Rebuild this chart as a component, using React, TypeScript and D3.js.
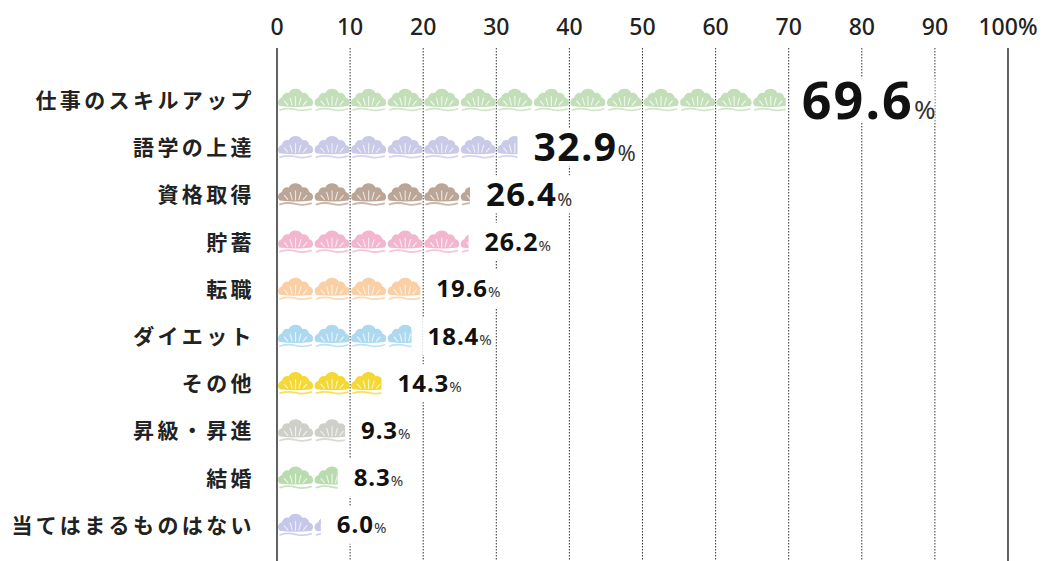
import React, { useEffect, useRef } from 'react';
import * as d3 from 'd3';

const categories = [
  '仕事のスキルアップ',
  '語学の上達',
  '資格取得',
  '貯蓄',
  '転職',
  'ダイエット',
  'その他',
  '昇級・昇進',
  '結婚',
  '当てはまるものはない',
];
const values = [69.6, 32.9, 26.4, 26.2, 19.6, 18.4, 14.3, 9.3, 8.3, 6.0];
const colors = [
  '#c2dfb9', '#c9c9e8', '#bba596', '#f2b6cf', '#f9cfa3',
  '#acd8f0', '#f4d936', '#cfcfca', '#b9dcae', '#c6c7ea',
];
const labelSizes = [52, 39, 33, 25, 24, 24, 24, 24, 24, 24];
const pctSizes = [26, 22, 18, 15, 15, 15, 15, 15, 15, 15];
const ticks = [0, 10, 20, 30, 40, 50, 60, 70, 80, 90, 100];
const iconUnit = 5; // one icon = 5%

const App = () => {
  const svgRef = useRef(null);

  useEffect(() => {
    const width = 1042;
    const height = 561;
    const svg = d3.select(svgRef.current);
    svg.selectAll('*').remove();
    svg.attr('width', width).attr('height', height);

    const x = d3.scaleLinear().domain([0, 100]).range([277, 1008]);
    const y = d3.scaleBand().domain(categories).range([76.4, 548.4]);

    // grid lines
    svg.append('g')
      .selectAll('line')
      .data(ticks)
      .enter()
      .append('line')
      .attr('x1', d => x(d))
      .attr('x2', d => x(d))
      .attr('y1', 48)
      .attr('y2', height)
      .attr('stroke', d => (d === 0 || d === 100 ? '#3a3a3a' : '#333'))
      .attr('stroke-width', d => (d === 0 || d === 100 ? 1.6 : 1))
      .attr('stroke-dasharray', d => (d === 0 || d === 100 ? null : '1.5,1.5'));

    // tick labels
    svg.append('g')
      .selectAll('text')
      .data(ticks)
      .enter()
      .append('text')
      .attr('x', d => x(d))
      .attr('y', 35)
      .attr('text-anchor', 'middle')
      .attr('font-family', '"Noto Sans", sans-serif')
      .attr('font-weight', 500)
      .attr('font-size', 23)
      .attr('fill', '#222')
      .text(d => (d === 100 ? '100%' : d));

    // category labels
    svg.append('g')
      .selectAll('text')
      .data(categories)
      .enter()
      .append('text')
      .attr('x', 255)
      .attr('y', d => y(d) + y.bandwidth() / 2 + 8)
      .attr('text-anchor', 'end')
      .attr('font-family', '"Noto Sans CJK JP", sans-serif')
      .attr('font-weight', 700)
      .attr('font-size', 21)
      .attr('letter-spacing', 3.4)
      .attr('fill', '#222')
      .text(d => d);

    // icon bars
    const iconW = x(iconUnit) - x(0);
    const s = iconW / 36;
    const defs = svg.append('defs');

    categories.forEach((c, i) => {
      const cy = y(c) + y.bandwidth() / 2;
      const top = cy - 11.5;
      defs.append('clipPath')
        .attr('id', `clip-${i}`)
        .append('rect')
        .attr('x', x(0))
        .attr('y', top - 4)
        .attr('width', x(values[i]) - x(0))
        .attr('height', 32);

      const row = svg.append('g').attr('clip-path', `url(#clip-${i})`);
      const n = Math.ceil(values[i] / iconUnit);
      for (let k = 0; k < n; k++) {
        const g = row.append('g')
          .attr('transform', `translate(${x(k * iconUnit) + 1},${top}) scale(${s * 0.96},1)`);
        g.append('path')
          .attr('d', 'M1.5,17.5 A5,5 0 0 1 4,9 A5.5,5.5 0 0 1 11,4.5 A8,8 0 0 1 25,4.5 A5.5,5.5 0 0 1 32,9 A5,5 0 0 1 34.5,17.5 Q18,19.5 1.5,17.5 Z')
          .attr('fill', colors[i]);
        const fan = [[18, 17, 18, 8], [14.5, 16.5, 12.5, 9.5], [21.5, 16.5, 23.5, 9.5], [10, 16.5, 6.5, 12.5], [26, 16.5, 29.5, 12.5]];
        fan.forEach(f => {
          g.append('line')
            .attr('x1', f[0]).attr('y1', f[1]).attr('x2', f[2]).attr('y2', f[3])
            .attr('stroke', '#fff')
            .attr('stroke-opacity', 0.7)
            .attr('stroke-width', 1.2)
            .attr('stroke-linecap', 'round');
        });
        g.append('path')
          .attr('d', 'M2,21.5 Q10,19 18,21 Q26,23 34,20.5')
          .attr('fill', 'none')
          .attr('stroke', colors[i])
          .attr('stroke-opacity', 0.8)
          .attr('stroke-width', 1.8)
          .attr('stroke-linecap', 'round');
      }
    });

    // value labels
    categories.forEach((c, i) => {
      const cy = y(c) + y.bandwidth() / 2;
      const lx = x(values[i]) + 16;
      const g = svg.append('g');
      const bg = g.append('rect').attr('fill', '#fff');
      const t = g.append('text')
        .attr('x', lx)
        .attr('y', cy + labelSizes[i] * 0.36)
        .attr('font-family', '"Noto Sans", sans-serif')
        .attr('font-weight', 700)
        .attr('fill', '#111');
      t.append('tspan')
        .attr('font-size', labelSizes[i])
        .attr('letter-spacing', labelSizes[i] * 0.04)
        .text(values[i].toFixed(1));
      t.append('tspan')
        .attr('font-size', pctSizes[i])
        .attr('font-weight', 400)
        .attr('fill', '#333')
        .text('%');
      const w = t.node().getComputedTextLength();
      bg.attr('x', lx - 5)
        .attr('y', cy - Math.max(19, labelSizes[i] * 0.42))
        .attr('width', w + 4)
        .attr('height', Math.max(38, labelSizes[i] * 0.84));
    });
  }, []);

  return (
    <div style={{ position: 'absolute', left: 0, top: 0, background: '#fff' }}>
      <svg ref={svgRef} width={1042} height={561}></svg>
    </div>
  );
};

export default App;
